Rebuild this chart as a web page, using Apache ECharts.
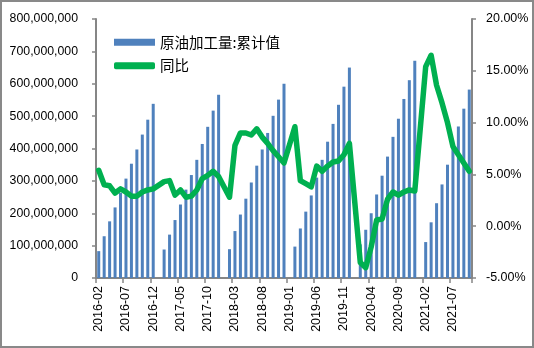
<!DOCTYPE html>
<html>
<head>
<meta charset="utf-8">
<script src="https://cdn.jsdelivr.net/npm/echarts@6/dist/echarts.min.js"></script>
<style>
html,body{margin:0;padding:0;background:#fff;}
#wrap{position:relative;width:534px;height:348px;}
#chart{position:absolute;left:0;top:0;width:534px;height:348px;}
#frame{position:absolute;left:0;top:0;width:534px;height:348px;box-sizing:border-box;border:2px solid #898989;pointer-events:none;}
</style>
</head>
<body>
<div id="wrap"><div id="chart"></div><div id="frame"></div></div>
<script>
var categories = [
'2016-02','2016-03','2016-04','2016-05','2016-06','2016-07','2016-08','2016-09','2016-10','2016-11','2016-12',
'2017-01','2017-02','2017-03','2017-04','2017-05','2017-06','2017-07','2017-08','2017-09','2017-10','2017-11','2017-12',
'2018-01','2018-02','2018-03','2018-04','2018-05','2018-06','2018-07','2018-08','2018-09','2018-10','2018-11','2018-12',
'2019-01','2019-02','2019-03','2019-04','2019-05','2019-06','2019-07','2019-08','2019-09','2019-10','2019-11','2019-12',
'2020-01','2020-02','2020-03','2020-04','2020-05','2020-06','2020-07','2020-08','2020-09','2020-10','2020-11','2020-12',
'2021-01','2021-02','2021-03','2021-04','2021-05','2021-06','2021-07','2021-08','2021-09','2021-10'
];
var cumulativeOutput = [
83000000,129000000,175000000,218000000,263000000,307000000,353000000,397000000,443000000,489000000,538000000,
null,88000000,134000000,179000000,227000000,273000000,318000000,365000000,414000000,467000000,517000000,566000000,
null,89000000,145000000,196000000,245000000,295000000,347000000,397000000,448000000,501000000,551000000,600000000,
null,97000000,153000000,205000000,255000000,310000000,365000000,421000000,476000000,535000000,591000000,650000000,
null,104000000,149000000,200000000,258000000,316000000,375000000,436000000,492000000,553000000,611000000,671000000,
null,111000000,172000000,231000000,289000000,350000000,409000000,468000000,523000000,582000000
];
var yoyPercent = [
5.4,4.0,3.9,3.2,3.6,3.3,2.9,2.9,3.3,3.5,3.6,
null,4.3,4.4,3.0,3.5,2.8,2.9,3.5,4.6,4.9,5.3,4.8,
null,2.8,7.8,9.0,9.0,8.8,9.4,8.6,8.0,7.3,6.7,6.1,
null,9.6,4.4,4.1,3.8,5.8,5.3,5.8,6.2,6.3,6.9,8.0,
null,-3.5,-4.0,-2.0,0.6,0.7,2.6,3.3,3.0,3.3,3.5,3.4,
null,15.4,16.5,13.6,11.9,10.0,7.7,6.9,6.1,5.3
];
var leftTicks = {min:0, max:800000000, interval:100000000};
var rightTicks = {min:-5, max:20, interval:5};
var seriesNames = ['原油加工量:累计值','同比'];

var chart = echarts.init(document.getElementById('chart'), null, {renderer:'canvas'});
var axisGray = '#868686';
var numFont = 'Liberation Sans, Arial, sans-serif';
chart.setOption({
  animation:false,
  backgroundColor:'#ffffff',
  grid:{left:96, right:62, top:19, bottom:70, containLabel:false},
  legend:{
    orient:'vertical', left:109, top:30, itemGap:9,
    itemWidth:41, itemHeight:7,
    textStyle:{fontSize:14.5, color:'#000', fontFamily:'Noto Sans CJK SC, sans-serif'},
    data:[{name:seriesNames[0], icon:'rect'},{name:seriesNames[1], icon:'roundRect'}]
  },
  xAxis:{
    type:'category', data:categories, boundaryGap:true,
    axisLine:{lineStyle:{color:axisGray, width:2}},
    axisTick:{show:true, interval:4, length:5, lineStyle:{color:axisGray, width:1.5}},
    axisLabel:{interval:4, rotate:90, fontSize:12.5, color:'#000', fontFamily:numFont, margin:8}
  },
  yAxis:[{
    type:'value', min:leftTicks.min, max:leftTicks.max, interval:leftTicks.interval,
    splitLine:{show:false},
    axisLine:{show:true, lineStyle:{color:axisGray, width:2}},
    axisTick:{show:true, length:4, lineStyle:{color:axisGray, width:1.5}},
    axisLabel:{fontSize:12.3, color:'#000', fontFamily:numFont, margin:18,
      formatter:function(v){return v.toLocaleString('en-US');}}
  },{
    type:'value', position:'right', min:rightTicks.min, max:rightTicks.max, interval:rightTicks.interval,
    splitLine:{show:false},
    axisLine:{show:true, lineStyle:{color:axisGray, width:2}},
    axisTick:{show:true, length:4, lineStyle:{color:axisGray, width:1.5}},
    axisLabel:{fontSize:12.5, color:'#000', fontFamily:numFont, margin:14,
      formatter:function(v){return v.toFixed(2)+'%';}}
  }],
  series:[{
    name:seriesNames[0], type:'bar', data:cumulativeOutput, barWidth:3,
    itemStyle:{color:'#4F81BD'}, yAxisIndex:0
  },{
    name:seriesNames[1], type:'line', data:yoyPercent, yAxisIndex:1,
    connectNulls:true, symbol:'none', smooth:false,
    lineStyle:{color:'#00B050', width:5.5, cap:'round', join:'round'},
    itemStyle:{color:'#00B050'}
  }]
});
</script>
</body>
</html>
